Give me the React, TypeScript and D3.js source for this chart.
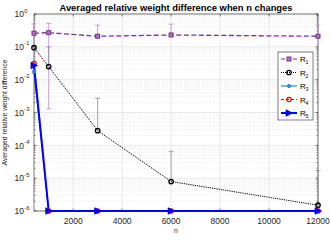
import React from "react";
import * as d3 from "d3";

const nValues = [400, 1000, 3000, 6000, 12000];
const r1 = [0.26, 0.27, 0.21, 0.23, 0.21];
const r1Upper = [0.5, 0.52, 0.46, 0.49, 0.46];
const r1Lower = [0.015, 0.0013, null, null, null];
const r2 = [0.094, 0.025, 2.8e-4, 7.9e-6, 1.5e-6];
const r2Upper = [null, 0.1, 2.7e-3, 6.6e-5, 1.7e-5];
const r3 = [0.0176, 1e-6, 1e-6, 1e-6, 1e-6];
const r4 = [0.031, 1e-6, 1e-6, 1e-6, 1e-6];
const r5 = [0.027, 1e-6, 1e-6, 1e-6, 1e-6];
const xTicks = [2000, 4000, 6000, 8000, 10000, 12000];
const yExponents = [0, -1, -2, -3, -4, -5, -6];
const legendLabels = ["1", "2", "3", "4", "5"];

const W = 330, H = 248;
const L = 34, R = 318, T = 14, B = 211;

export default function App() {
  const x = d3.scaleLinear().domain([400, 12000]).range([L, R]);
  const y = d3.scaleLog().domain([1e-6, 1]).range([B, T]);
  const line = d3
    .line<number>()
    .x((_, i) => x(nValues[i]))
    .y((v) => y(v));

  const minor: number[] = [];
  for (let e = -6; e < 0; e++) for (let k = 2; k <= 9; k++) minor.push(k * Math.pow(10, e));

  const font = "Liberation Sans, Arial, Helvetica, sans-serif";
  const purple = "#7e2f8e";
  const purpleLight = "#b98ac6";
  const cyan = "#2b8ad0";
  const red = "#ff0000";
  const blue = "#0000ff";

  const sq = (cx: number, cy: number, k: string) => (
    <rect key={k} x={cx - 2} y={cy - 2} width={4} height={4} fill="#a877b6" stroke={purple} strokeWidth={1} />
  );
  const diamond = (cx: number, cy: number, k: string) => (
    <circle key={k} cx={cx} cy={cy} r={2.2} fill="none" stroke="#000" strokeWidth={1.3} />
  );
  const dot = (cx: number, cy: number, k: string) => (
    <circle key={k} cx={cx} cy={cy} r={1.6} fill={cyan} stroke={cyan} />
  );
  const circ = (cx: number, cy: number, k: string) => (
    <circle key={k} cx={cx} cy={cy} r={2.2} fill="none" stroke={red} strokeWidth={1.2} />
  );
  const tri = (cx: number, cy: number, k: string) => (
    <path key={k} d={`M${cx - 3},${cy - 3.2}L${cx + 3.5},${cy}L${cx - 3},${cy + 3.2}Z`} fill={blue} stroke={blue} strokeWidth={0.8} />
  );

  const errBar = (i: number, hi: number | null, lo: number | null, color: string, k: string) => {
    const cx = x(nValues[i]);
    const top = hi != null ? y(hi) : null;
    const bot = lo != null ? y(lo) : null;
    const v = k.startsWith("a") ? y(r1[i]) : y(r2[i]);
    return (
      <g key={k} stroke={color} strokeWidth={0.8} fill="none">
        {top != null && <line x1={cx} x2={cx} y1={top} y2={v} />}
        {top != null && <line x1={cx - 2.5} x2={cx + 2.5} y1={top} y2={top} />}
        {bot != null && <line x1={cx} x2={cx} y1={v} y2={bot} />}
        {bot != null && <line x1={cx - 2.5} x2={cx + 2.5} y1={bot} y2={bot} />}
      </g>
    );
  };

  const legendY = [59, 72.5, 86, 99.5, 113];
  const legendLine = [
    { stroke: purple, dash: "4,2", w: 1.2, m: sq },
    { stroke: "#000", dash: "1,1", w: 1, m: diamond },
    { stroke: cyan, dash: "", w: 1.2, m: dot },
    { stroke: red, dash: "3,2", w: 1.2, m: circ },
    { stroke: blue, dash: "", w: 2, m: tri },
  ];

  return (
    <svg width={W} height={H} style={{ position: "absolute", left: 0, top: 0, background: "#fff" }} fontFamily={font}>
      <rect x={0} y={0} width={W} height={H} fill="#fff" />
      <rect x={L} y={T} width={R - L} height={B - T} fill="#fff" />
      {minor.map((m, i) => (
        <line key={"mg" + i} x1={L} x2={R} y1={y(m)} y2={y(m)} stroke="#d8d8d8" strokeWidth={0.6} strokeDasharray="1,1.5" />
      ))}
      {yExponents.map((e) => (
        <line key={"yg" + e} x1={L} x2={R} y1={y(Math.pow(10, e))} y2={y(Math.pow(10, e))} stroke="#e3e3e3" strokeWidth={0.8} />
      ))}
      {xTicks.map((t) => (
        <line key={"xg" + t} x1={x(t)} x2={x(t)} y1={T} y2={B} stroke="#e3e3e3" strokeWidth={0.8} />
      ))}
      <rect x={L} y={T} width={R - L} height={B - T} fill="none" stroke="#262626" strokeWidth={0.6} />
      {xTicks.map((t) => (
        <g key={"xt" + t}>
          <line x1={x(t)} x2={x(t)} y1={B} y2={B - 2.5} stroke="#262626" strokeWidth={0.6} />
          <line x1={x(t)} x2={x(t)} y1={T} y2={T + 2.5} stroke="#262626" strokeWidth={0.6} />
          <text x={x(t)} y={223.5} fontSize={8.5} textAnchor="middle" fill="#262626">{t}</text>
        </g>
      ))}
      {yExponents.map((e) => (
        <g key={"yt" + e}>
          <line x1={L} x2={L + 2.5} y1={y(Math.pow(10, e))} y2={y(Math.pow(10, e))} stroke="#262626" strokeWidth={0.6} />
          <line x1={R} x2={R - 2.5} y1={y(Math.pow(10, e))} y2={y(Math.pow(10, e))} stroke="#262626" strokeWidth={0.6} />
          <text x={24} y={y(Math.pow(10, e)) + 3.2} fontSize={8.5} textAnchor="end" fill="#262626">10</text>
          <text x={24.3} y={y(Math.pow(10, e)) - 1.5} fontSize={5.8} textAnchor="start" fill="#262626">{e}</text>
        </g>
      ))}
      {minor.map((m, i) => (
        <g key={"mt" + i}>
          <line x1={L} x2={L + 1.5} y1={y(m)} y2={y(m)} stroke="#262626" strokeWidth={0.5} />
          <line x1={R} x2={R - 1.5} y1={y(m)} y2={y(m)} stroke="#262626" strokeWidth={0.5} />
        </g>
      ))}
      <text x={176} y={233} fontSize={6.8} textAnchor="middle" fill="#262626">n</text>
      <text transform={`translate(6.5,${(T + B) / 2}) rotate(-90)`} fontSize={6.8} textAnchor="middle" fill="#262626">
        Averaged relative weight difference
      </text>
      <text x={176} y={10.5} fontSize={9.4} fontWeight="bold" textAnchor="middle" fill="#000">
        Averaged relative weight difference when n changes
      </text>

      {nValues.map((_, i) => errBar(i, r1Upper[i], r1Lower[i], purpleLight, "a" + i))}
      {nValues.map((_, i) => errBar(i, r2Upper[i], null, "#8c8c8c", "b" + i))}

      <path d={line(r1) || ""} fill="none" stroke={purple} strokeWidth={1.3} strokeDasharray="5,2.5" />
      <path d={line(r2) || ""} fill="none" stroke="#000" strokeWidth={1} strokeDasharray="1.2,1" />
      <path d={line(r3) || ""} fill="none" stroke={cyan} strokeWidth={1.2} />
      <path d={line(r4) || ""} fill="none" stroke={red} strokeWidth={1.2} strokeDasharray="3,2" />
      <path d={line(r5) || ""} fill="none" stroke={blue} strokeWidth={2} />
      {r1.map((v, i) => sq(x(nValues[i]), y(v), "m1" + i))}
      {r2.map((v, i) => diamond(x(nValues[i]), y(v), "m2" + i))}
      {r3.map((v, i) => dot(x(nValues[i]), y(v), "m3" + i))}
      {r4.map((v, i) => circ(x(nValues[i]), y(v), "m4" + i))}
      {r5.map((v, i) => tri(x(nValues[i]), y(v), "m5" + i))}

      <rect x={278} y={52} width={35} height={68} fill="#fff" stroke="#262626" strokeWidth={0.6} />
      {legendLabels.map((lab, i) => {
        const s = legendLine[i];
        const ly = legendY[i];
        return (
          <g key={"lg" + i}>
            <line x1={281} x2={297} y1={ly} y2={ly} stroke={s.stroke} strokeWidth={s.w} strokeDasharray={s.dash} />
            {s.m(289, ly, "lm" + i)}
            <text x={300} y={ly + 3} fontSize={8} fill="#000">R</text>
            <text x={305.5} y={ly + 5} fontSize={5.2} fill="#000">{lab}</text>
          </g>
        );
      })}
    </svg>
  );
}
